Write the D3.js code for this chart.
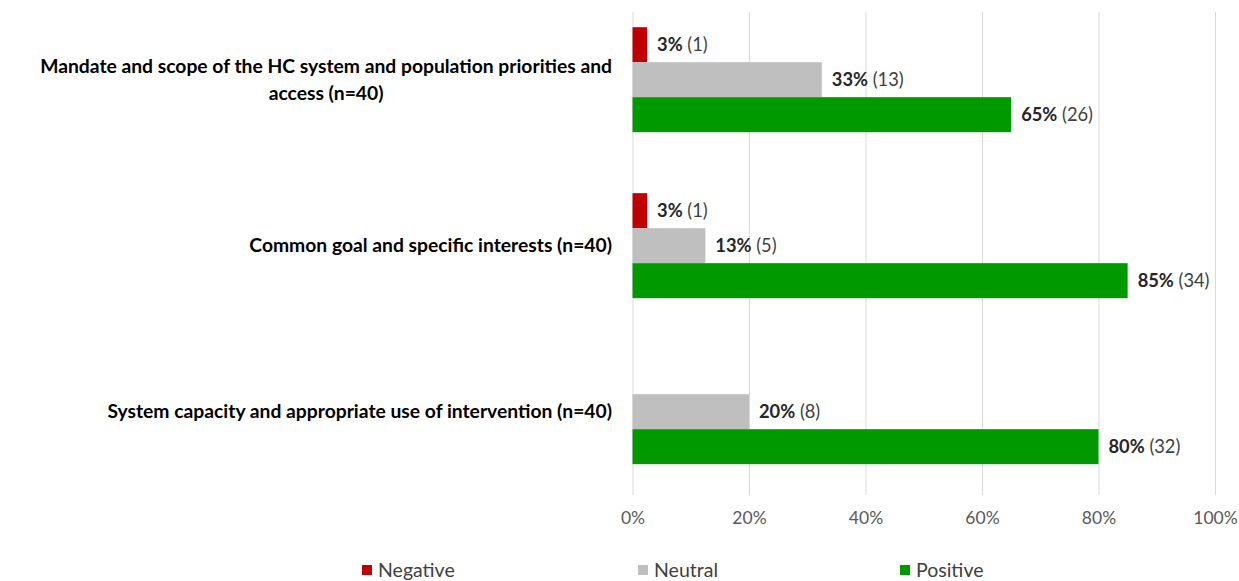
<!DOCTYPE html>
<html>
<head>
<meta charset="utf-8">
<script src="https://cdn.jsdelivr.net/npm/d3@7"></script>
<style>
  body { margin: 0; background: #fff; }
</style>
</head>
<body>
<div id="chart"></div>
<script>
// data
const categories = [
    ["Mandate and scope of the HC system and population priorities and", "access (n=40)"],
    ["Common goal and specific interests (n=40)"],
    ["System capacity and appropriate use of intervention (n=40)"]
];
const series = ["Negative", "Neutral", "Positive"];
const negative = [1, 1, 0];
const neutral = [13, 5, 8];
const positive = [26, 34, 32];
const respondents = [40, 40, 40];
const xTicks = [0, 0.2, 0.4, 0.6, 0.8, 1];
const colors = ["#c00000", "#bfbfbf", "#009a00"];

function drawChart() {
    let w = 1239;
    let h = 581;
    const svg = d3.select("#chart")
                .append("svg")
                .attr("width", w)
                .attr("height", h);

    const values = [negative, neutral, positive];
    let rows = categories.map((c, i) => {
        return {
            label: c,
            idx: i,
            bars: series.map((s, j) => ({ key: s, count: values[j][i], share: values[j][i] / respondents[i] }))
        };
    });

    let xScale = d3.scaleLinear()
                    .domain([0, 1])
                    .range([632.5, 1215]);
    let yScale = d3.scaleBand()
                    .domain(d3.range(categories.length))
                    .range([12, 495])
                    .paddingInner(0.3675)
                    .paddingOuter(0.1386)
                    .align(0.33);
    let subScale = d3.scaleBand()
                    .domain(series)
                    .range([0, yScale.bandwidth()]);
    let colorScale = d3.scaleOrdinal().domain(series).range(colors);

    // gridlines + tick labels
    const xAxis = svg.append("g")
        .attr("transform", "translate(0,495)")
        .call(d3.axisBottom(xScale)
            .tickValues(xTicks)
            .tickFormat(d3.format(".0%"))
            .tickSizeInner(-483)
            .tickSizeOuter(0)
            .tickPadding(17));
    xAxis.select(".domain").remove();
    xAxis.selectAll("line").attr("stroke", "#d9d9d9").attr("stroke-width", 1);
    xAxis.selectAll("text")
        .attr("fill", "#595959")
        .attr("font-family", "Lato")
        .attr("font-size", "17.5px");

    // bars
    const groups = svg.selectAll(".cat")
        .data(rows)
        .enter()
        .append("g")
        .attr("transform", d => `translate(0,${yScale(d.idx)})`);

    groups.selectAll("rect")
        .data(d => d.bars.filter(b => b.count > 0))
        .enter()
        .append("rect")
        .attr("x", xScale(0))
        .attr("y", d => subScale(d.key))
        .attr("width", d => xScale(d.share) - xScale(0))
        .attr("height", subScale.bandwidth())
        .attr("fill", d => colorScale(d.key));

    // data labels
    let labels = groups.selectAll("text.val")
        .data(d => d.bars.filter(b => b.count > 0))
        .enter()
        .append("text")
        .attr("class", "val")
        .attr("x", d => xScale(d.share) + 10)
        .attr("y", d => subScale(d.key) + subScale.bandwidth() / 2 + 6.5)
        .attr("font-family", "Lato")
        .attr("font-size", "18.3px")
        .attr("fill", "#262626");
    labels.append("tspan")
        .attr("font-weight", "bold")
        .text(d => Math.round(d.share * 100) + "%");
    labels.append("tspan")
        .attr("fill", "#404040")
        .text(d => " (" + d.count + ")");

    // category labels
    groups.each(function(d) {
        let g = d3.select(this);
        let mid = yScale.bandwidth() / 2;
        let lineH = 27;
        let top = mid - (d.label.length - 1) * lineH / 2;
        let first = g.append("text")
            .attr("x", 612)
            .attr("y", top + 6.5)
            .attr("text-anchor", "end")
            .attr("font-family", "Lato")
            .attr("font-weight", "bold")
            .attr("font-size", "19.3px")
            .attr("fill", "#000")
            .text(d.label[0]);
        let len = first.node().getComputedTextLength();
        for (let k = 1; k < d.label.length; k++) {
            g.append("text")
                .attr("x", 612 - len / 2)
                .attr("y", top + 6.5 + k * lineH)
                .attr("text-anchor", "middle")
                .attr("font-family", "Lato")
                .attr("font-weight", "bold")
                .attr("font-size", "19.3px")
                .attr("fill", "#000")
                .text(d.label[k]);
        }
    });

    // legend
    let legendX = [362, 638, 900];
    series.forEach((s, i) => {
        svg.append("rect")
            .attr("x", legendX[i])
            .attr("y", 565)
            .attr("width", 10)
            .attr("height", 10)
            .attr("fill", colorScale(s));
        svg.append("text")
            .attr("x", legendX[i] + 16)
            .attr("y", 577)
            .attr("font-family", "Lato")
            .attr("font-size", "19.5px")
            .attr("fill", "#404040")
            .text(s);
    });
}
drawChart();
</script>
</body>
</html>
